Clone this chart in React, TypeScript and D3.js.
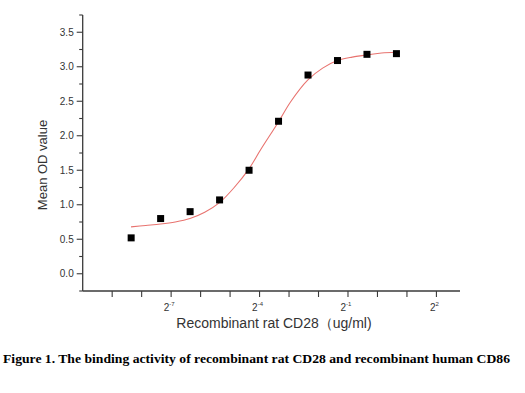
import { useRef, useEffect } from 'react';
import * as d3 from 'd3';

// concentrations (ug/ml), 2-fold serial dilution
const concentrations = [
  0.0030517578125, 0.006103515625, 0.01220703125, 0.0244140625, 0.048828125,
  0.09765625, 0.1953125, 0.390625, 0.78125, 1.5625,
];
const meanOD = [0.52, 0.8, 0.9, 1.07, 1.5, 2.21, 2.88, 3.09, 3.18, 3.19];

// fitted curve (log2 of concentration, OD)
const fitLog2 = [-8.36, -7.86, -7.36, -6.86, -6.36, -5.86, -5.36, -4.86, -4.36, -3.96, -3.36, -2.95, -2.36, -1.86, -1.36, -0.86, -0.36, 0.14, 0.64];
const fitOD = [0.68, 0.7, 0.72, 0.75, 0.8, 0.89, 1.03, 1.25, 1.52, 1.8, 2.2, 2.49, 2.81, 2.98, 3.09, 3.14, 3.17, 3.2, 3.21];

const yMajor = [0, 0.5, 1, 1.5, 2, 2.5, 3, 3.5];
const yMinor = [-0.25, 0.25, 0.75, 1.25, 1.75, 2.25, 2.75, 3.25, 3.75];
const xTicks = [-9, -8, -7, -6, -5, -4, -3, -2, -1, 0, 1, 2];
const xLabels = [-7, -4, -1, 2];

const caption = 'Figure 1. The binding activity of recombinant rat CD28 and recombinant human CD86';

export default function App() {
  const svgRef = useRef<SVGSVGElement>(null);

  useEffect(() => {
    if (!svgRef.current) return;
    const svg = d3.select(svgRef.current);
    svg.selectAll('*').remove();

    const x = d3.scaleLinear().domain([-10, 2.8]).range([82.7, 460]);
    const y = d3.scaleLinear().domain([-0.25, 3.75]).range([291, 15]);
    const axisColor = '#3a3a3a';
    const font = 'Arial, "Liberation Sans", sans-serif';

    // y axis
    const yAxis = svg.append('g').attr('transform', `translate(${x(-10)},0)`);
    yAxis.append('line')
      .attr('y1', y(-0.25)).attr('y2', y(3.75))
      .attr('stroke', axisColor).attr('stroke-width', 1.3);
    yAxis.selectAll('.maj').data(yMajor).join('line')
      .attr('x1', -6).attr('x2', 0)
      .attr('y1', (d) => y(d)).attr('y2', (d) => y(d))
      .attr('stroke', axisColor).attr('stroke-width', 1.1);
    yAxis.selectAll('.min').data(yMinor).join('line')
      .attr('x1', -3.5).attr('x2', 0)
      .attr('y1', (d) => y(d)).attr('y2', (d) => y(d))
      .attr('stroke', axisColor).attr('stroke-width', 1.1);
    yAxis.selectAll('text').data(yMajor).join('text')
      .attr('x', -9).attr('y', (d) => y(d)).attr('dy', '0.35em')
      .attr('text-anchor', 'end')
      .attr('font-family', font).attr('font-size', 10).attr('fill', '#333')
      .text((d) => d3.format('.1f')(d));

    // x axis
    const xAxis = svg.append('g').attr('transform', `translate(0,${y(-0.25)})`);
    xAxis.append('line')
      .attr('x1', x(-10)).attr('x2', x(2.8))
      .attr('stroke', axisColor).attr('stroke-width', 1.3);
    xAxis.selectAll('.tk').data(xTicks).join('line')
      .attr('x1', (d) => x(d)).attr('x2', (d) => x(d))
      .attr('y1', 0).attr('y2', 6)
      .attr('stroke', axisColor).attr('stroke-width', 1.1);
    const lbl = xAxis.selectAll('text').data(xLabels).join('text')
      .attr('x', (d) => x(d) - 2).attr('y', 20)
      .attr('text-anchor', 'middle')
      .attr('font-family', font).attr('font-size', 10).attr('fill', '#333');
    lbl.append('tspan').text('2');
    lbl.append('tspan').attr('dy', -5).attr('font-size', 6).text((d) => String(d));

    // axis titles
    svg.append('text')
      .attr('transform', `translate(47,${(y(-0.25) + y(3.75)) / 2 + 12}) rotate(-90)`)
      .attr('text-anchor', 'middle')
      .attr('font-family', font).attr('font-size', 13).attr('fill', '#333')
      .text('Mean OD value');
    svg.append('text')
      .attr('x', 274).attr('y', 328)
      .attr('text-anchor', 'middle')
      .attr('font-family', font).attr('font-size', 14).attr('fill', '#333')
      .text('Recombinant rat CD28（ug/ml)');

    // fitted curve
    const line = d3.line<number>()
      .x((d) => x(fitLog2[d]))
      .y((d) => y(fitOD[d]))
      .curve(d3.curveCatmullRom.alpha(0.5));
    svg.append('path')
      .attr('d', line(d3.range(fitLog2.length)))
      .attr('fill', 'none').attr('stroke', '#e8736f').attr('stroke-width', 1.1);

    // points
    const s = 7;
    svg.selectAll('.pt').data(concentrations).join('rect')
      .attr('x', (d) => x(Math.log2(d)) - s / 2)
      .attr('y', (d, i) => y(meanOD[i]) - s / 2)
      .attr('width', s).attr('height', s)
      .attr('fill', '#000');

    // caption
    svg.append('text')
      .attr('x', 3).attr('y', 363)
      .attr('font-family', '"Times New Roman", "Liberation Serif", serif')
      .attr('font-weight', 'bold').attr('font-size', 13).attr('fill', '#000')
      .attr('textLength', 507).attr('lengthAdjust', 'spacingAndGlyphs')
      .text(caption);
  }, []);

  return (
    <svg
      ref={svgRef}
      width={525}
      height={393}
      style={{ position: 'absolute', left: 0, top: 0, background: '#fff' }}
    />
  );
}
